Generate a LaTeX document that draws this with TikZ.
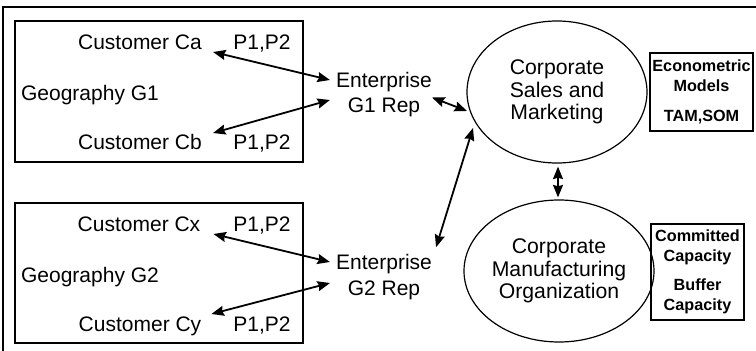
\documentclass[tikz,border=0pt]{standalone}
\usepackage{fontspec}
\setmainfont{Liberation Sans}
\usetikzlibrary{arrows.meta,shapes.geometric,calc}

\tikzset{
  lbl/.style={inner sep=0pt, font=\fontsize{21}{23}\selectfont},
  replbl/.style={inner sep=0pt, align=center, font=\fontsize{21}{25.5}\selectfont},
  region/.style={draw, line width=1.5pt, inner sep=0pt},
  unit/.style={draw, ellipse, line width=1.2pt, inner sep=0pt, align=center,
               font=\fontsize{21.2}{22.5}\selectfont},
  notebox/.style={draw, line width=1.6pt, inner sep=0pt, align=center,
                  font=\bfseries\fontsize{16.2}{19.5}\selectfont},
  link/.style={line width=1.8pt, {Stealth[length=12.5pt,width=10pt,inset=1.5pt]}-{Stealth[length=12.5pt,width=10pt,inset=1.5pt]}}
}

\begin{document}
\begin{tikzpicture}[x=1pt, y=-1pt]
  \useasboundingbox (0,0) rectangle (756,351);

  % outer frame (top and left edges only)
  \draw[line width=1.5pt] (3,351) -- (3,7) -- (756,7);

  % geography regions
  \node[region, minimum width=288pt, minimum height=141pt] (g1box) at (159,91.5) {};
  \node[region, minimum width=288pt, minimum height=140pt] (g2box) at (159,273) {};

  % region contents
  \node[lbl, anchor=base] (ca)   at (140,49)  {Customer Ca};
  \node[lbl, anchor=base] (pa)   at (262,49) {P1,P2};
  \node[lbl, anchor=base] (geo1) at (90,100) {Geography G1};
  \node[lbl, anchor=base] (cb)   at (140,149) {Customer Cb};
  \node[lbl, anchor=base] (pb)   at (262,149) {P1,P2};

  \node[lbl, anchor=base] (cx)   at (139,231) {Customer Cx};
  \node[lbl, anchor=base] (px)   at (262,231) {P1,P2};
  \node[lbl, anchor=base] (geo2) at (90,282) {Geography G2};
  \node[lbl, anchor=base] (cy)   at (140,331) {Customer Cy};
  \node[lbl, anchor=base] (py)   at (262,331) {P1,P2};

  % enterprise representatives
  \node[replbl] (rep1) at (384,94.5) {Enterprise\\G1 Rep};
  \node[replbl] (rep2) at (384,277) {Enterprise\\G2 Rep};

  % corporate units
  \node[unit, minimum width=180pt, minimum height=142pt] (sales) at (557,92)
    {Corporate\\Sales and\\Marketing};
  \node[unit, minimum width=178pt, minimum height=142pt] (mfg) at (559,271)
    {Corporate\\Manufacturing\\Organization};

  % side notes
  \node[notebox, minimum width=103pt, minimum height=78pt] (econ) at (701.5,92)
    {Econometric\\Models\\[11pt]TAM,SOM};
  \node[notebox, minimum width=93pt, minimum height=96pt] (cap) at (697.5,272)
    {Committed\\Capacity\\[10pt]Buffer\\Capacity};

  % customer links
  \draw[link] ($(ca.base east)+(11,3)$)  -- ($(rep1.west)+(-6,-14.5)$);
  \draw[link] ($(cb.base east)+(11,-16)$) -- ($(rep1.west)+(-6,5.5)$);
  \draw[link] ($(cx.base east)+(13,3)$)  -- ($(rep2.west)+(-6,-15)$);
  \draw[link] ($(cy.base east)+(10,-17)$) -- ($(rep2.west)+(-6,6)$);

  % representative links
  \draw[link] ($(rep1.east)+(0,3)$) -- ($(sales.center)+(-90,19)$);
  \draw[link] ($(rep2.north east)+(4,-7)$) -- ($(sales.center)+(-84,36)$);

  % sales <-> manufacturing
  \draw[link] ($(sales.south)+(1,3)$) -- ($(mfg.north)+(-1,-2)$);
\end{tikzpicture}
\end{document}
